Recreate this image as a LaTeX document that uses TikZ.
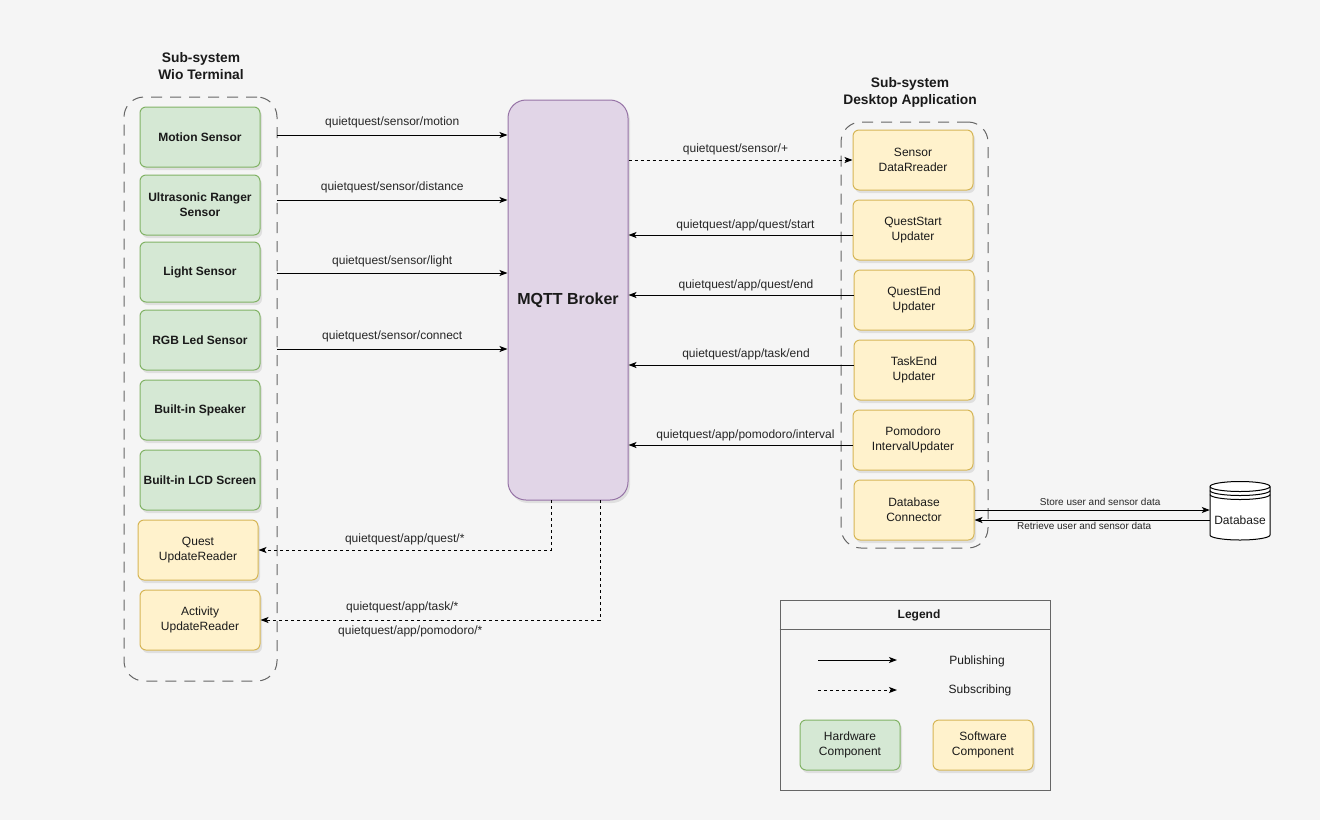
\documentclass[tikz,border=0pt]{standalone}
\usepackage{fontspec}
\setmainfont{Liberation Sans}
\usetikzlibrary{arrows.meta,shadows}

\definecolor{bgcol}{HTML}{F5F5F5}
\definecolor{hwfill}{HTML}{D5E8D4}
\definecolor{hwline}{HTML}{82B366}
\definecolor{swfill}{HTML}{FFF2CC}
\definecolor{swline}{HTML}{D6B656}
\definecolor{mqfill}{HTML}{E1D5E7}
\definecolor{mqline}{HTML}{9673A6}
\definecolor{grpline}{HTML}{666666}
\definecolor{txtcol}{HTML}{1A1A1A}
\definecolor{lblcol}{HTML}{262626}

\newcommand\compfont{\fontsize{12}{15}\selectfont\bfseries}
\newcommand\plainfont{\fontsize{12}{15}\selectfont}
\newcommand\edgefont{\fontsize{12}{14}\selectfont}
\newcommand\smallfont{\fontsize{10}{12}\selectfont}
\newcommand\headfont{\fontsize{13.8}{17}\selectfont\bfseries}

\tikzset{
  shade box/.style={drop shadow={opacity=0.18, shadow xshift=2pt, shadow yshift=-3pt}},
  hw/.style={draw=hwline, fill=hwfill, line width=1pt, rounded corners=6pt,
    minimum width=120pt, minimum height=60pt, inner sep=2pt, align=center,
    text=txtcol, font=\compfont, shade box},
  sw/.style={hw, draw=swline, fill=swfill},
  groupbox/.style={draw=grpline, line width=1pt, dash pattern=on 11pt off 8pt,
    rounded corners=20pt, inner sep=0pt},
  heading/.style={align=center, font=\headfont, text=txtcol},
  pub/.style={draw=black, line width=1pt, -{Stealth[length=8pt,width=6pt,inset=2pt]}},
  sub/.style={pub, dash pattern=on 3pt off 3pt},
  lbl/.style={font=\edgefont, text=lblcol, inner sep=2pt},
  slbl/.style={font=\smallfont, text=lblcol, inner sep=1pt},
}

\begin{document}
\begin{tikzpicture}[x=1pt, y=-1pt]
  % canvas
  \fill[bgcol] (0,0) rectangle (1320,820);
  \useasboundingbox (0,0) rectangle (1320,820);

  % ---------- Wio Terminal sub-system ----------
  \node[heading] (wiotitle) at (201,66.5) {Sub-system\\Wio Terminal};
  \node[groupbox, minimum width=153pt, minimum height=584pt] (wio) at (200.5,389) {};

  \node[hw] (motion)  at (200,137) {Motion Sensor};
  \node[hw] (ultra)   at (200,205) {Ultrasonic Ranger\\Sensor};
  \node[hw] (light)   at (200,272) {Light Sensor};
  \node[hw] (rgb)     at (200,340) {RGB Led Sensor};
  \node[hw] (speaker) at (200,410) {Built-in Speaker};
  \node[hw] (lcd)     at (200,480) {Built-in LCD Screen};
  \node[sw, font=\plainfont] (qur) at (198,550) {Quest\\UpdateReader};
  \node[sw, font=\plainfont] (aur) at (200,620) {Activity\\UpdateReader};

  % ---------- broker ----------
  \node[draw=mqline, fill=mqfill, line width=1pt, rounded corners=18pt,
        minimum width=120pt, minimum height=400pt, font=\fontsize{16}{19}\selectfont\bfseries,
        text=txtcol, shade box] (broker) at (568,300) {MQTT Broker};

  % ---------- Desktop Application sub-system ----------
  \node[heading] (desktitle) at (910,92.5) {Sub-system\\Desktop Application};
  \node[groupbox, minimum width=147pt, minimum height=426pt] (desk) at (914.5,335) {};

  \node[sw, font=\plainfont] (sdr) at (913,160) {Sensor\\DataRreader};
  \node[sw, font=\plainfont] (qsu) at (913,230) {QuestStart\\Updater};
  \node[sw, font=\plainfont] (qeu) at (914,300) {QuestEnd\\Updater};
  \node[sw, font=\plainfont] (teu) at (914,370) {TaskEnd\\Updater};
  \node[sw, font=\plainfont] (piu) at (913,440) {Pomodoro\\IntervalUpdater};
  \node[sw, font=\plainfont] (dbc) at (914,510) {Database\\Connector};

  % ---------- database (datastore cylinder) ----------
  \filldraw[fill=white, draw=black, line width=1pt]
    (1210,486.5) -- (1210,535) arc[start angle=180, end angle=360, x radius=30pt, y radius=5pt]
    -- (1270,486.5) arc[start angle=0, end angle=180, x radius=30pt, y radius=5pt] -- cycle;
  \draw[line width=1pt]
    (1210,486.5) arc[start angle=180, end angle=360, x radius=30pt, y radius=5pt]
    (1210,490.5) arc[start angle=180, end angle=360, x radius=30pt, y radius=5pt]
    (1210,494.5) arc[start angle=180, end angle=360, x radius=30pt, y radius=5pt];
  \node[minimum width=60pt, minimum height=60pt, inner sep=0pt] (db) at (1240,510) {};
  \node[font=\plainfont, text=txtcol] (dbtext) at (1240,520) {Database};

  % ---------- publishing: Wio Terminal -> broker ----------
  \coordinate (pm) at (277,135);
  \coordinate (pd) at (277,200);
  \coordinate (pl) at (277,273);
  \coordinate (pc) at (277,349);
  \draw[pub] (pm) -- node[lbl, above=5pt] {quietquest/sensor/motion} (pm -| broker.west);
  \draw[pub] (pd) -- node[lbl, above=5pt] {quietquest/sensor/distance} (pd -| broker.west);
  \draw[pub] (pl) -- node[lbl, above=4pt] {quietquest/sensor/light} (pl -| broker.west);
  \draw[pub] (pc) -- node[lbl, above=5pt] {quietquest/sensor/connect} (pc -| broker.west);

  % ---------- subscribing: broker -> Wio Terminal ----------
  \coordinate (bq) at (551,500);
  \coordinate (ba) at (600,500);
  \draw[sub] (bq) |- node[lbl, above=3pt, pos=0.75] {quietquest/app/quest/*} (qur.east);
  \draw[sub] (ba) |- node[lbl, above=5pt, pos=0.75, xshift=-28pt] {quietquest/app/task/*}
                     node[lbl, below=3pt, pos=0.75, xshift=-20pt] {quietquest/app/pomodoro/*} (aur.east);

  % ---------- subscribing: broker -> desktop ----------
  \draw[sub] (sdr.west -| broker.east) -- node[lbl, above=3pt, xshift=-5pt] {quietquest/sensor/+} (sdr.west);

  % ---------- publishing: desktop -> broker ----------
  \path ([yshift=-5pt]qsu.west) coordinate (qsw)
        ([yshift=5pt]qeu.west) coordinate (qew)
        ([yshift=5pt]teu.west) coordinate (tew)
        ([yshift=-5pt]piu.west) coordinate (piw);
  \draw[pub] (qsw) -- node[lbl, above=2pt, xshift=5pt] {quietquest/app/quest/start} (qsw -| broker.east);
  \draw[pub] (qew) -- node[lbl, above=2pt, xshift=5pt] {quietquest/app/quest/end} (qew -| broker.east);
  \draw[pub] (tew) -- node[lbl, above=3pt, xshift=5pt] {quietquest/app/task/end} (tew -| broker.east);
  \draw[pub] (piw) -- node[lbl, above=2pt, xshift=5pt] {quietquest/app/pomodoro/interval} (piw -| broker.east);

  % ---------- database traffic ----------
  \path ([yshift=-10pt]dbc.east) coordinate (dbr);
  \draw[pub] (dbc.east) -- node[slbl, above=3pt, xshift=8pt] {Store user and sensor data} (dbc.east -| db.west);
  \draw[pub] (dbr -| db.west) -- node[slbl, below=1pt, xshift=-8pt] {Retrieve user and sensor data} (dbr);

  % ---------- legend ----------
  \node[draw=grpline, line width=1pt, minimum width=270pt, minimum height=190pt, inner sep=0pt]
    (legend) at (915,695) {};
  \draw[grpline, line width=1pt] ([yshift=-30pt]legend.north west) -- ([yshift=-30pt]legend.north east);
  \node[font=\fontsize{12}{15}\selectfont\bfseries, text=txtcol] (legtitle) at (919,615) {Legend};

  \coordinate (lpa) at (818,660);
  \coordinate (lpb) at (897,660);
  \coordinate (lsa) at (818,690);
  \coordinate (lsb) at (897,690);
  \draw[pub] (lpa) -- (lpb);
  \draw[sub] (lsa) -- (lsb);
  \node[font=\plainfont, text=txtcol] (legpub) at (977,661) {Publishing};
  \node[font=\plainfont, text=txtcol] (legsub) at (980,690) {Subscribing};

  \node[hw, font=\plainfont, minimum width=100pt, minimum height=50pt] (leghw) at (850,745) {Hardware\\Component};
  \node[sw, font=\plainfont, minimum width=100pt, minimum height=50pt] (legsw) at (983,745) {Software\\Component};
\end{tikzpicture}
\end{document}
